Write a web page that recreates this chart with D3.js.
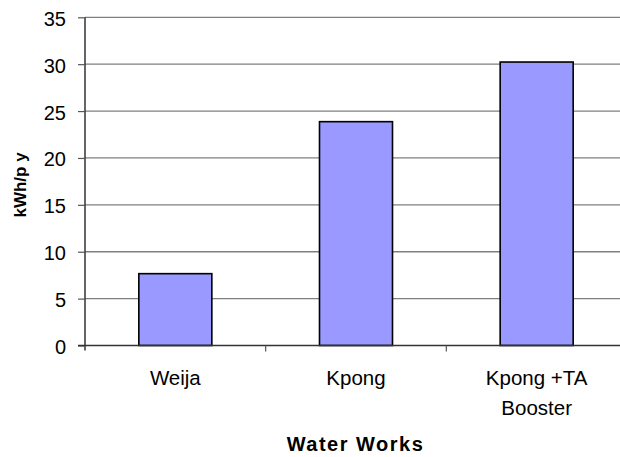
<!DOCTYPE html>
<html><head><meta charset="utf-8">
<script src="https://cdn.jsdelivr.net/npm/d3@7"></script>
<style>body{margin:0;background:#fff}svg{display:block}text{font-family:"Liberation Sans",Arial,sans-serif;fill:#000}</style>
</head><body><svg width="620" height="457"></svg>
<script>
const categories = ["Weija", "Kpong", "Kpong +TA\nBooster"];
const values = [7.66, 23.87, 30.23];
const yTicks = [0, 5, 10, 15, 20, 25, 30, 35];
const yTitle = "kWh/p y";
const xTitle = "Water Works";

(function () {
const svg = d3.select("svg");
const mLeft = 85, mRight = 627, mTop = 17.3, mBottom = 345.5;
const xb = d3.scaleBand().domain(categories).range([mLeft, mRight]);
const y = d3.scaleLinear().domain([0, 35]).range([mBottom, mTop]);

// gridlines
svg.append("g").selectAll("line").data(yTicks.filter(d => d > 0)).join("line")
  .attr("x1", mLeft).attr("x2", mRight).attr("y1", d => y(d)).attr("y2", d => y(d))
  .attr("stroke", "#7f7f7f").attr("stroke-width", 1.3);

// bars
svg.append("g").selectAll("rect").data(values).join("rect")
  .attr("x", (d, i) => xb(categories[i]) + xb.bandwidth() / 2 - 36.5)
  .attr("width", 73)
  .attr("y", d => y(d)).attr("height", d => y(0) - y(d))
  .attr("fill", "#9999ff").attr("stroke", "#000").attr("stroke-width", 1.6);

// y axis
const ya = svg.append("g").attr("transform", `translate(${mLeft},0)`)
  .call(d3.axisLeft(y).tickValues(yTicks).tickSize(7).tickPadding(12));
ya.select(".domain").attr("d", `M0,${mTop}V${mBottom + 5}`).attr("stroke", "#333").attr("stroke-width", 1.5);
ya.selectAll(".tick line").attr("stroke", "#555").attr("stroke-width", 1.2);
ya.selectAll(".tick text").attr("font-size", 20).attr("font-family", "Liberation Sans, Arial, sans-serif").attr("fill", "#000").attr("dy", "0.4em");

// x axis
svg.append("line").attr("x1", mLeft - 7).attr("x2", mRight).attr("y1", mBottom).attr("y2", mBottom).attr("stroke", "#333").attr("stroke-width", 1.5);
svg.append("g").selectAll("line").data(categories.slice(1)).join("line")
  .attr("x1", d => xb(d)).attr("x2", d => xb(d)).attr("y1", mBottom).attr("y2", mBottom + 6)
  .attr("stroke", "#555").attr("stroke-width", 1.2);

// category labels
const cl = svg.append("g").selectAll("text").data(categories).join("text")
  .attr("text-anchor", "middle").attr("font-size", 20.5);
cl.each(function (d) {
  d.split("\n").forEach((t, i) => {
    d3.select(this).append("tspan").attr("x", xb(d) + xb.bandwidth() / 2).attr("y", 385 + i * 30).text(t);
  });
});

// titles
svg.append("text").attr("x", 355.5).attr("y", 451).attr("text-anchor", "middle")
  .attr("font-size", 20).attr("font-weight", "bold").attr("letter-spacing", 1.5).text(xTitle);
svg.append("text").attr("transform", "translate(26,185) rotate(-90)").attr("text-anchor", "middle")
  .attr("font-size", 17).attr("font-weight", "bold").text(yTitle);
})();
</script></body></html>
